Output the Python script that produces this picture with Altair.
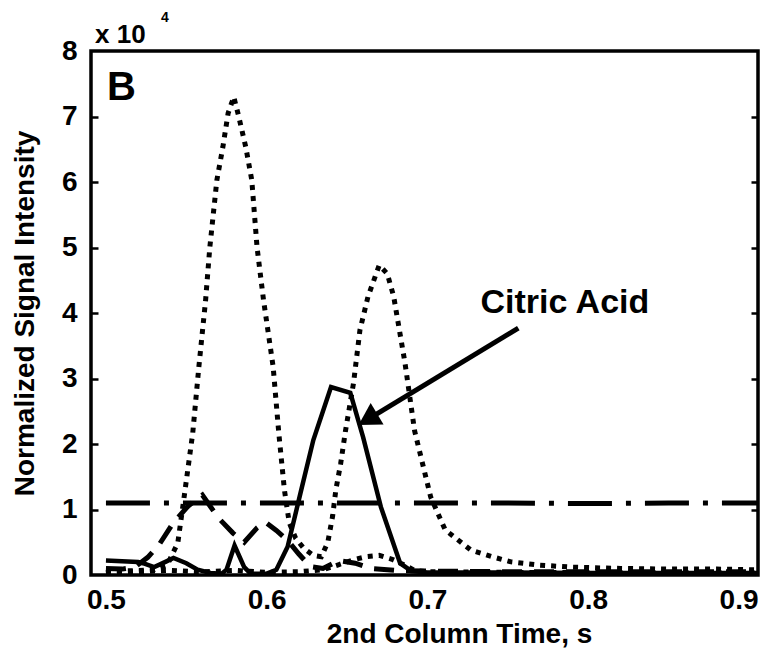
import altair as alt
import pandas as pd

# ---------------- data ----------------
dotA_t = [0.500, 0.510, 0.520, 0.530, 0.538, 0.5447, 0.5484, 0.554, 0.5578, 0.562, 0.5646,
          0.569, 0.5727, 0.576, 0.5795, 0.5826, 0.587, 0.5907, 0.594, 0.598, 0.604, 0.6075,
          0.611, 0.614, 0.618, 0.623, 0.629, 0.634, 0.638, 0.641, 0.643, 0.646, 0.649, 0.654,
          0.658, 0.663, 0.670, 0.675, 0.679, 0.686, 0.692, 0.702, 0.711, 0.727, 0.740, 0.752,
          0.770, 0.790, 0.820, 0.850, 0.880, 0.905]
dotA_v = [0.08, 0.06, 0.07, 0.08, 0.15, 0.49, 1.15, 2.17, 3.18, 4.20, 5.00,
          6.03, 6.53, 7.05, 7.30, 7.00, 6.53, 6.03, 5.00, 4.20, 3.18, 2.17,
          1.30, 0.80, 0.56, 0.41, 0.30, 0.28, 0.50, 0.90, 1.30, 1.70, 2.20, 2.93,
          3.74, 4.25, 4.73, 4.60, 4.25, 3.24, 2.20, 1.19, 0.69, 0.38, 0.28, 0.20,
          0.15, 0.12, 0.10, 0.09, 0.09, 0.08]

solid_t = [0.500, 0.510, 0.520, 0.523, 0.530, 0.537, 0.542, 0.550, 0.557, 0.565, 0.572,
           0.575, 0.580, 0.586, 0.590, 0.600, 0.606, 0.613, 0.621, 0.629, 0.640, 0.652,
           0.660, 0.671, 0.683, 0.690, 0.700, 0.750, 0.800, 0.850, 0.905]
solid_v = [0.22, 0.21, 0.20, 0.18, 0.12, 0.20, 0.26, 0.18, 0.08, 0.03, 0.02,
           0.08, 0.45, 0.12, 0.02, 0.02, 0.08, 0.43, 1.25, 2.06, 2.87, 2.78,
           2.10, 1.04, 0.18, 0.06, 0.04, 0.04, 0.03, 0.03, 0.03]

dash_t = [0.500, 0.510, 0.518, 0.526, 0.533, 0.542, 0.551, 0.560, 0.570, 0.579, 0.586,
          0.594, 0.599, 0.606, 0.613, 0.620, 0.627, 0.635, 0.645, 0.655, 0.665, 0.680,
          0.700, 0.750, 0.800, 0.850, 0.905]
dash_v = [0.10, 0.09, 0.12, 0.27, 0.46, 0.80, 1.05, 1.22, 0.87, 0.64, 0.50,
          0.72, 0.81, 0.68, 0.53, 0.32, 0.13, 0.10, 0.22, 0.18, 0.10, 0.07,
          0.06, 0.05, 0.05, 0.05, 0.05]

dotB_t = [0.500, 0.520, 0.540, 0.560, 0.580, 0.600, 0.620, 0.635, 0.645, 0.655, 0.662,
          0.670, 0.678, 0.685, 0.692, 0.700, 0.750, 0.800, 0.850, 0.905]
dotB_v = [0.04, 0.05, 0.07, 0.05, 0.07, 0.04, 0.05, 0.08, 0.16, 0.24, 0.28,
          0.30, 0.24, 0.16, 0.07, 0.05, 0.04, 0.04, 0.04, 0.04]

dashdot_t = [0.500, 0.550, 0.600, 0.650, 0.700, 0.750, 0.800, 0.850, 0.905]
dashdot_v = [1.10, 1.10, 1.10, 1.10, 1.10, 1.10, 1.09, 1.10, 1.10]

x_ticks = [0.5, 0.6, 0.7, 0.8, 0.9]
y_ticks = [0, 1, 2, 3, 4, 5, 6, 7, 8]
inner_ticks = [1, 2, 3, 4, 5, 6, 7]

label_text = ["Citric Acid"]
label_t = [0.733]
label_v = [4.0]
arrow_t = [0.7565]
arrow_v = [3.77]
arrow_t2 = [0.6629]
arrow_v2 = [2.376]

# ---------------- layout ----------------
W, H = 667, 524
X_DOMAIN = [0.4907, 0.9056]
Y_DOMAIN = [0, 8]
FONT = "Liberation Sans"

xs = alt.Scale(domain=X_DOMAIN, nice=False, zero=False)
ys = alt.Scale(domain=Y_DOMAIN, nice=False, zero=False)


def frame(ts, vs):
    return pd.DataFrame({"t": ts, "v": vs})


x_axis = alt.Axis(values=x_ticks, format=".1f", ticks=False, tickSize=0, domain=False, grid=False,
                  labelFont=FONT, labelFontSize=28, labelFontWeight="bold", labelColor="black",
                  labelPadding=11, labelFlush=10, labelFlushOffset=9,
                  title="2nd Column Time, s", titleFont=FONT, titleFontSize=28,
                  titleFontWeight="bold", titleColor="black", titleX=368, titleY=67,
                  titleBaseline="alphabetic", titleAlign="center")

y_axis = alt.Axis(values=y_ticks, format="d", ticks=False, tickSize=0, domain=False, grid=False,
                  labelFont=FONT, labelFontSize=28, labelFontWeight="bold", labelColor="black",
                  labelPadding=14,
                  title="Normalized Signal Intensity", titleFont=FONT, titleFontSize=28,
                  titleFontWeight="bold", titleColor="black", titleX=-66, titleY=H / 2,
                  titleBaseline="middle", titleAlign="center", titleAngle=-90)

tick_left = alt.Axis(orient="right", offset=-W, values=inner_ticks, labels=False, domain=False,
                     grid=False, ticks=True, tickSize=7, tickWidth=2.5, tickColor="black", title=None)
tick_right = alt.Axis(orient="left", offset=-W, values=inner_ticks, labels=False, domain=False,
                      grid=False, ticks=True, tickSize=7, tickWidth=2.5, tickColor="black", title=None)


def line(ts, vs, xa=None, ya=None, **mk):
    return alt.Chart(frame(ts, vs)).mark_line(color="black", **mk).encode(
        x=alt.X("t:Q", scale=xs, axis=xa),
        y=alt.Y("v:Q", scale=ys, axis=ya),
    )


l_dashdot = line(dashdot_t, dashdot_v, xa=x_axis, ya=y_axis,
                 strokeWidth=5, strokeDash=[44, 14, 5, 14], strokeCap="butt")
l_dash = line(dash_t, dash_v, ya=tick_left, strokeWidth=5, strokeDash=[20, 12], strokeCap="butt")
l_dotB = line(dotB_t, dotB_v, ya=tick_right, strokeWidth=5, strokeDash=[5, 6], strokeCap="butt")
l_dotA = line(dotA_t, dotA_v, strokeWidth=5, strokeDash=[5, 6], strokeCap="butt")
l_solid = line(solid_t, solid_v, strokeWidth=4.5)

ann_df = pd.DataFrame({"t": label_t, "v": label_v, "txt": label_text})
citric = alt.Chart(ann_df).mark_text(
    font=FONT, fontSize=34, fontWeight="bold", color="black", align="left", baseline="alphabetic"
).encode(x=alt.X("t:Q", scale=xs, axis=None), y=alt.Y("v:Q", scale=ys, axis=None), text="txt:N")

arr_df = pd.DataFrame({"t": arrow_t, "v": arrow_v, "t2": arrow_t2, "v2": arrow_v2})
arrow_line = alt.Chart(arr_df).mark_rule(color="black", strokeWidth=5).encode(
    x=alt.X("t:Q", scale=xs, axis=None), y=alt.Y("v:Q", scale=ys, axis=None),
    x2="t2:Q", y2="v2:Q")
arrow_head = alt.Chart(arr_df).mark_point(
    shape="triangle-up", filled=True, size=625, angle=239, color="black", opacity=1
).encode(x=alt.X("t2:Q", scale=xs, axis=None), y=alt.Y("v2:Q", scale=ys, axis=None))

one = pd.DataFrame({"a": [0]})
panel_b = alt.Chart(one).mark_text(
    text="B", font=FONT, fontSize=40, fontWeight="bold", color="black", align="left",
    baseline="alphabetic").encode(x=alt.value(16), y=alt.value(49))
mult = alt.Chart(one).mark_text(
    text="x 10", font=FONT, fontSize=26, fontWeight="bold", color="black", align="left",
    baseline="alphabetic").encode(x=alt.value(4), y=alt.value(-8))
expo = alt.Chart(one).mark_text(
    text="4", font=FONT, fontSize=14, fontWeight="bold", color="black", align="left",
    baseline="alphabetic").encode(x=alt.value(70), y=alt.value(-29))

chart = alt.layer(
    l_dashdot, l_dash, l_dotB, l_dotA, l_solid, arrow_line, arrow_head, citric, panel_b, mult, expo
).resolve_axis(x="independent", y="independent").properties(
    width=W, height=H,
    autosize=alt.AutoSizeParams(type="none"),
    padding={"left": 91, "top": 51, "right": 5, "bottom": 75},
    background="white",
).configure_view(stroke="black", strokeWidth=3.5)

chart.save("out.html", embed_options={"renderer": "svg", "actions": False})
